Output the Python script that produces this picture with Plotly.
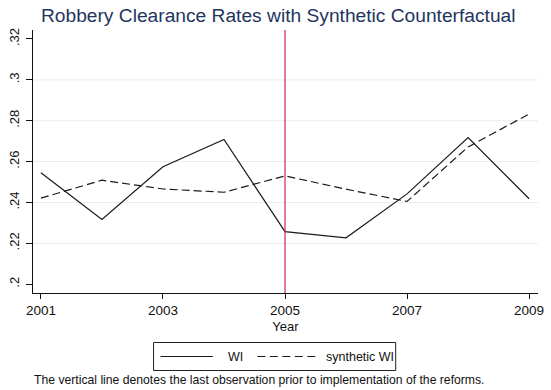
import plotly.graph_objects as go

# Robbery clearance rates, Wisconsin vs. synthetic control
years = [2001, 2002, 2003, 2004, 2005, 2006, 2007, 2008, 2009]
wi = [0.2545, 0.2317, 0.2575, 0.2708, 0.2257, 0.2227, 0.2442, 0.2718, 0.2418]
synthetic_wi = [0.2421, 0.2509, 0.2466, 0.2450, 0.2530, 0.2465, 0.2405, 0.2672, 0.2833]
reform_year = 2005

x_ticks = [2001, 2003, 2005, 2007, 2009]
y_ticks = [0.20, 0.22, 0.24, 0.26, 0.28, 0.30, 0.32]
y_tick_labels = [".2", ".22", ".24", ".26", ".28", ".3", ".32"]
grid_vals = [0.22, 0.24, 0.26, 0.28, 0.30]

W, H = 551, 390
ML, MR, MT, MB = 33, 7, 30, 97
PW, PH = W - ML - MR, H - MT - MB


def px(x):
    """pixel x -> paper x"""
    return (x - ML) / PW


def py(y):
    """pixel y -> paper y"""
    return (H - MB - y) / PH


FONT = "Liberation Sans, Arial, Helvetica, sans-serif"
INK = "#111111"

fig = go.Figure()
fig.add_trace(go.Scatter(x=years, y=wi, mode="lines", name="WI",
                         line=dict(color="#1a1a1a", width=1.2),
                         showlegend=False))
fig.add_trace(go.Scatter(x=years, y=synthetic_wi, mode="lines", name="synthetic WI",
                         line=dict(color="#1a1a1a", width=1.2, dash="8px,4px"),
                         showlegend=False))

shapes = []
# horizontal grid lines
for g in grid_vals:
    shapes.append(dict(type="line", xref="paper", yref="y", x0=0, x1=1, y0=g, y1=g,
                       line=dict(color="#e6eef0", width=1), layer="below"))
# reform marker
shapes.append(dict(type="line", xref="x", yref="paper", x0=reform_year, x1=reform_year,
                   y0=0, y1=1, line=dict(color="#d3103c", width=1.1)))

# legend box
LEG_Y = 356.5
shapes.append(dict(type="rect", xref="paper", yref="paper",
                   x0=px(155), x1=px(400), y0=py(370.5), y1=py(342.5),
                   line=dict(color="#222222", width=1), fillcolor="white"))
shapes.append(dict(type="line", xref="paper", yref="paper",
                   x0=px(162), x1=px(215), y0=py(LEG_Y), y1=py(LEG_Y),
                   line=dict(color="#1a1a1a", width=1.2)))
shapes.append(dict(type="line", xref="paper", yref="paper",
                   x0=px(260), x1=px(321), y0=py(LEG_Y), y1=py(LEG_Y),
                   line=dict(color="#1a1a1a", width=1.2, dash="8px,4.5px")))

annotations = [
    dict(text="WI", xref="paper", yref="paper", x=px(228), y=py(LEG_Y),
         xanchor="left", yanchor="middle", showarrow=False,
         font=dict(family=FONT, size=12.5, color=INK)),
    dict(text="synthetic WI", xref="paper", yref="paper", x=px(327), y=py(LEG_Y),
         xanchor="left", yanchor="middle", showarrow=False,
         font=dict(family=FONT, size=12.5, color=INK)),
    dict(text="The vertical line denotes the last observation prior to implementation of the reforms.",
         xref="paper", yref="paper", x=px(32), y=py(380),
         xanchor="left", yanchor="middle", showarrow=False,
         font=dict(family=FONT, size=12.2, color=INK)),
]

fig.update_layout(
    width=W, height=H,
    margin=dict(l=ML, r=MR, t=MT, b=MB),
    paper_bgcolor="white", plot_bgcolor="white",
    title=dict(text="Robbery Clearance Rates with Synthetic Counterfactual",
               xref="container", x=0.505, xanchor="center", y=1 - 15 / H, yanchor="middle",
               font=dict(family=FONT, size=19.2, color="#1f3560")),
    xaxis=dict(range=[2000.8706, 2009.1456], tickvals=x_ticks, ticktext=[str(v) for v in x_ticks],
               showgrid=False, zeroline=False, showline=True, linecolor=INK, linewidth=1,
               ticks="outside", ticklen=5, tickcolor=INK,
               tickfont=dict(family=FONT, size=13.5, color=INK),
               title=dict(text="Year", font=dict(family=FONT, size=13, color=INK), standoff=4)),
    yaxis=dict(range=[0.1957, 0.3244], tickvals=y_ticks, ticktext=y_tick_labels,
               showgrid=False, zeroline=False, showline=True, linecolor=INK, linewidth=1,
               ticks="outside", ticklen=6, tickcolor=INK, tickangle=-90, ticklabelstandoff=2,
               tickfont=dict(family=FONT, size=13, color=INK)),
    shapes=shapes,
    annotations=annotations,
    showlegend=False,
)

fig.write_html("out.html")
